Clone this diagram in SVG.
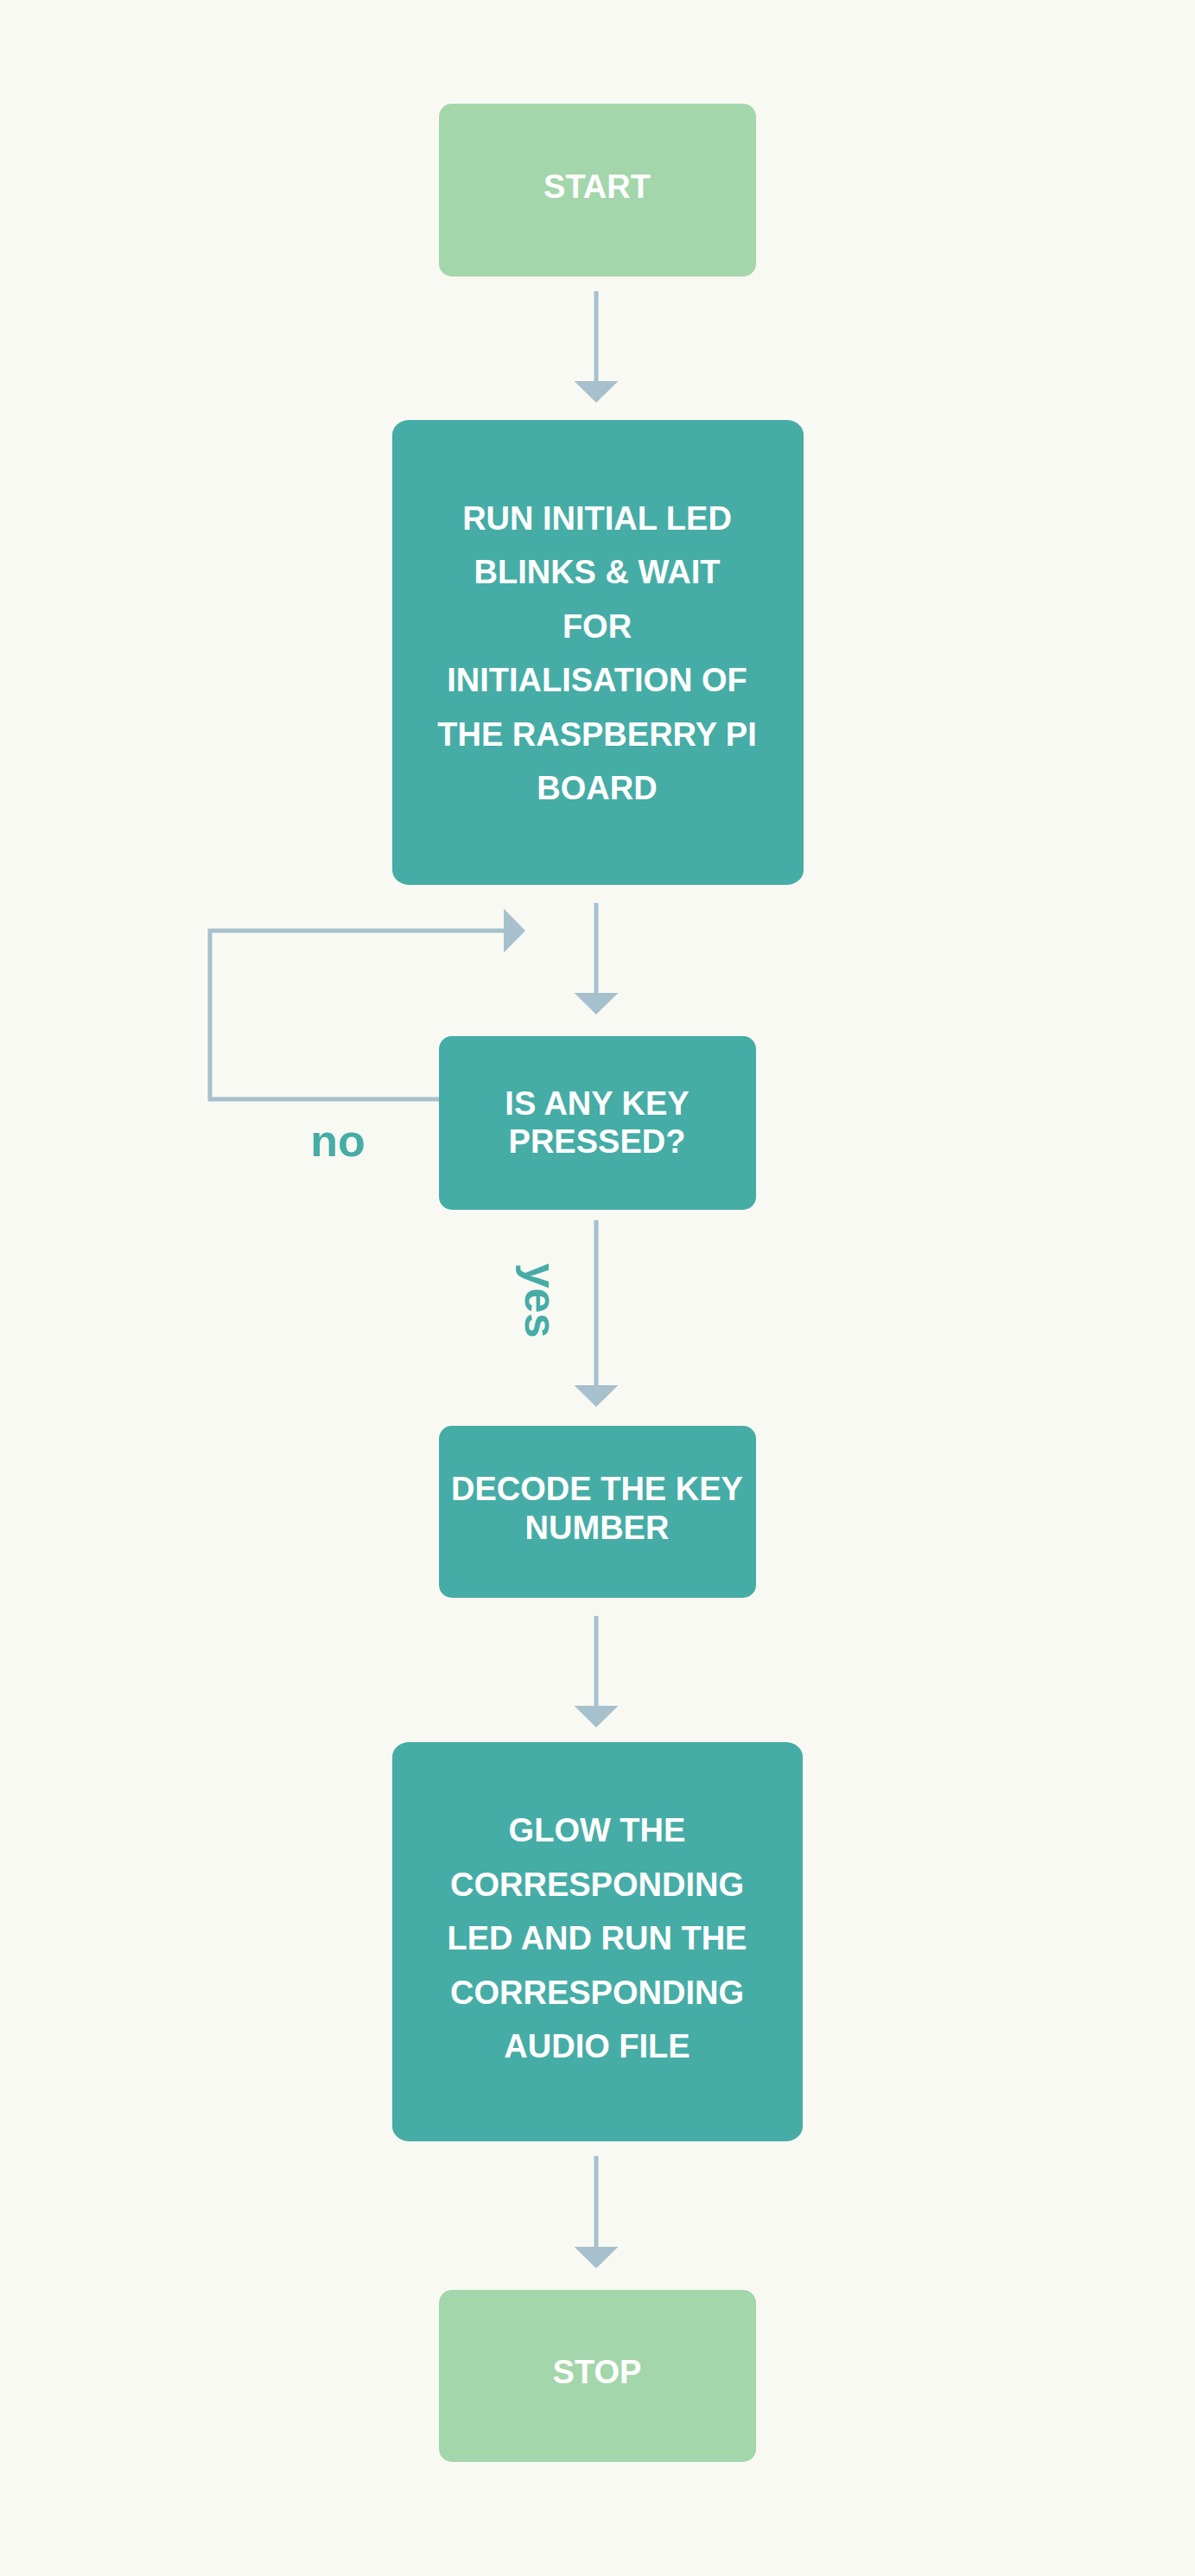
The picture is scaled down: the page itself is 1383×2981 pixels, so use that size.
<svg xmlns="http://www.w3.org/2000/svg" width="1383" height="2981" viewBox="0 0 1383 2981">
<style>
.bg{fill:#f9f9f3}
.term{fill:#a3d6aa}
.proc{fill:#46aca6}
.t{font-family:"Liberation Sans",Arial,sans-serif;font-weight:bold;font-size:38px;fill:#ffffff;text-anchor:middle}
.lbl{font-family:"Liberation Sans",Arial,sans-serif;font-weight:bold;font-size:52px;fill:#46aca6;text-anchor:middle}
.c{fill:none;stroke:#a6c0cd;stroke-width:5}
</style>
<defs>
<marker id="ah" viewBox="0 0 25 51" refX="0" refY="25.5" markerWidth="25" markerHeight="51" markerUnits="userSpaceOnUse" orient="auto">
<path d="M0,0 L25,25.5 L0,51 Z" fill="#a6c0cd"/>
</marker>
</defs>
<rect class="bg" x="0" y="0" width="1383" height="2981"/>
<g id="connectors">
<line class="c" x1="690" y1="337" x2="690" y2="441" marker-end="url(#ah)"/>
<line class="c" x1="690" y1="1045" x2="690" y2="1149" marker-end="url(#ah)"/>
<line class="c" x1="690" y1="1412" x2="690" y2="1603" marker-end="url(#ah)"/>
<line class="c" x1="690" y1="1870" x2="690" y2="1974" marker-end="url(#ah)"/>
<line class="c" x1="690" y1="2495" x2="690" y2="2600" marker-end="url(#ah)"/>
<polyline class="c" points="510,1272 243,1272 243,1077 583,1077" marker-end="url(#ah)"/>
<text class="lbl" x="391" y="1338">no</text>
<text class="lbl" transform="translate(608,1505) rotate(90)" x="0" y="0">yes</text>
</g>
<g id="start">
<rect class="term" x="508" y="120" width="367" height="200" rx="15" ry="15"/>
<text class="t" x="691" y="229">START</text>
</g>
<g id="init">
<rect class="proc" x="454" y="486" width="476" height="538" rx="20" ry="17"/>
<text class="t" x="691" y="612.5">RUN INITIAL LED</text>
<text class="t" x="691" y="675">BLINKS &amp; WAIT</text>
<text class="t" x="691" y="737.5">FOR</text>
<text class="t" x="691" y="800">INITIALISATION OF</text>
<text class="t" x="691" y="862.5">THE RASPBERRY PI</text>
<text class="t" x="691" y="925">BOARD</text>
</g>
<g id="keypressed">
<rect class="proc" x="508" y="1199" width="367" height="201" rx="15" ry="15"/>
<text class="t" x="691" y="1289.5">IS ANY KEY</text>
<text class="t" x="691" y="1334">PRESSED?</text>
</g>
<g id="decode">
<rect class="proc" x="508" y="1650" width="367" height="199" rx="15" ry="15"/>
<text class="t" x="691" y="1736">DECODE THE KEY</text>
<text class="t" x="691" y="1781">NUMBER</text>
</g>
<g id="glow">
<rect class="proc" x="454" y="2016" width="475" height="462" rx="20" ry="17"/>
<text class="t" x="691" y="2131">GLOW THE</text>
<text class="t" x="691" y="2193.5">CORRESPONDING</text>
<text class="t" x="691" y="2256">LED AND RUN THE</text>
<text class="t" x="691" y="2318.5">CORRESPONDING</text>
<text class="t" x="691" y="2381">AUDIO FILE</text>
</g>
<g id="stop">
<rect class="term" x="508" y="2650" width="367" height="199" rx="15" ry="15"/>
<text class="t" x="691" y="2758">STOP</text>
</g>
</svg>
